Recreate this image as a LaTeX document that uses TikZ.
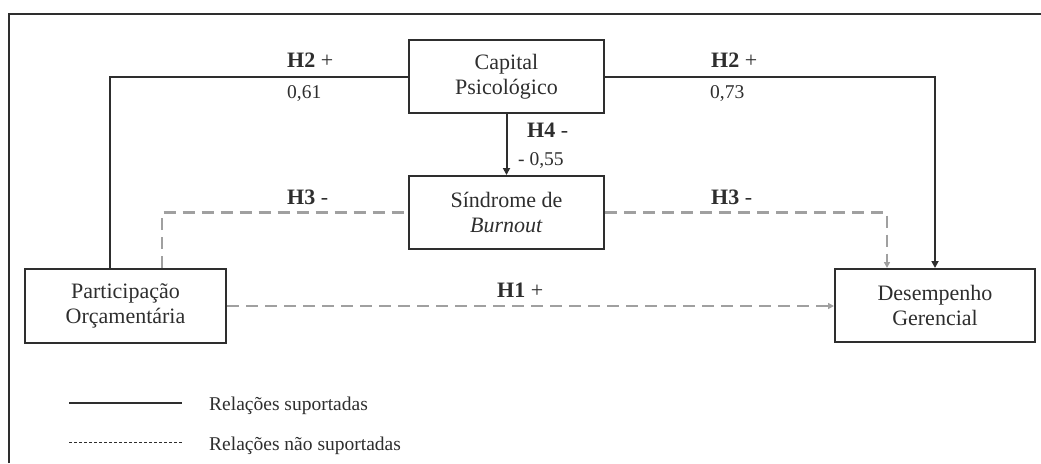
\documentclass[tikz,border=0pt]{standalone}
\usepackage{fontspec}
\setmainfont{Liberation Serif}
\usetikzlibrary{arrows.meta,calc}
\definecolor{ink}{HTML}{2E2E2E}
\definecolor{dgray}{HTML}{A0A0A0}
\tikzset{
  box/.style={draw=ink, line width=2pt, rectangle, align=center, text=ink,
    font=\fontsize{22}{25}\selectfont, minimum width=195pt, minimum height=73pt, inner sep=2pt},
  supp/.style={draw=ink, line width=2pt},
  nsupp/.style={draw=dgray, line width=2.2pt, dash pattern=on 12pt off 7pt},
  hlab/.style={anchor=base west, inner sep=0pt, text=ink, font=\fontsize{22}{25}\selectfont},
  nlab/.style={anchor=base west, inner sep=0pt, text=ink, font=\fontsize{19.5}{22}\selectfont},
  sarrow/.style={-{Triangle[width=7pt,length=7pt]}},
  darrow/.style={-{Triangle[width=6pt,length=6pt]}}
}
\begin{document}
\begin{tikzpicture}[x=1pt,y=-1pt]
\useasboundingbox (0,0) rectangle (1041,463);
% frame
\draw[ink, line width=2.5pt] (9,463) -- (9,14) -- (1041,14);
% boxes
\node[box] (cap) at (506.5,76.5) {Capital\\Psicológico};
\node[box] (sind) at (506.5,212.5) {Síndrome de\\\textit{Burnout}};
\node[box, minimum width=201pt, minimum height=74pt] (part) at (125.5,306) {Participação\\Orçamentária};
\node[box, minimum width=200pt] (desm) at (935,305.5) {Desempenho\\Gerencial};
% supported
\draw[supp] ($(part.north west)+(86,0)$) |- (cap.west);
\draw[supp, sarrow] (cap.east) -| (desm.north);
\draw[supp, sarrow] (cap.south) -- (sind.north);
% not supported
\draw[nsupp] ($(part.north west)+(138,0)$) |- (sind.west);
\draw[nsupp, darrow] (sind.east) -| ($(desm.north west)+(53,0)$);
\draw[nsupp, darrow] (part.east) -- (part.east -| desm.west);
% labels
\node[hlab] (l1) at (287,67) {\textbf{H2} +};
\node[nlab] (l2) at (287,98) {0,61};
\node[hlab] (l3) at (711,67) {\textbf{H2} +};
\node[nlab] (l4) at (710,98) {0,73};
\node[hlab] (l5) at (527,137) {\textbf{H4} -};
\node[nlab] (l6) at (518,165) {- 0,55};
\node[hlab] (l7) at (287,204) {\textbf{H3} -};
\node[hlab] (l8) at (711,204) {\textbf{H3} -};
\node[hlab] (l9) at (497,297) {\textbf{H1} +};
% legend
\coordinate (ls1) at (69,403);
\coordinate (le1) at (182,403);
\coordinate (ls2) at (69,442);
\coordinate (le2) at (182,442);
\draw[ink, line width=1.5pt] (ls1) -- (le1);
\draw[ink, line width=1pt, dash pattern=on 3pt off 2pt] (ls2) -- (le2);
\node[nlab] (t1) at (209,410) {Relações suportadas};
\node[nlab] (t2) at (209,450) {Relações não suportadas};
\end{tikzpicture}
\end{document}
